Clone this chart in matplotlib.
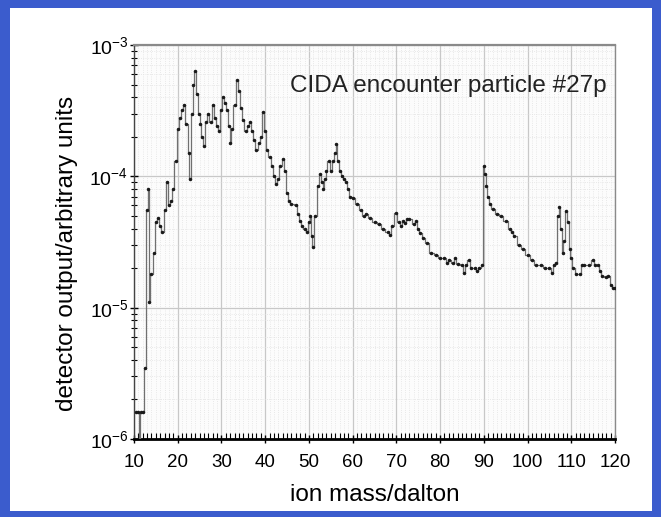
import matplotlib
matplotlib.use("Agg")
import matplotlib.pyplot as plt
from matplotlib.patches import Rectangle
from matplotlib.ticker import MultipleLocator, LogLocator, NullFormatter, FixedLocator

# ion mass (dalton)
mass = [10.5, 11.0, 11.3, 11.6, 12.0, 12.5, 13.0, 13.2, 13.5, 14.0, 14.5, 15.0, 15.5, 16.0, 16.5,
        17.0, 17.5, 18.0, 18.5, 19.0, 19.5, 20.0, 20.5, 21.0, 21.5, 22.0, 22.5, 22.8, 23.2, 23.6,
        24.0, 24.4, 24.8, 25.2, 25.6, 26.0, 26.5, 27.0, 27.5, 28.0, 28.5, 29.0, 29.5, 30.0, 30.4,
        30.8, 31.3, 31.7, 32.0, 32.5, 33.0, 33.5, 34.0, 34.5, 35.0, 35.5, 36.0, 36.5, 37.0, 37.5,
        38.0, 38.5, 39.0, 39.5, 40.0, 40.5, 41.0, 41.5, 42.0, 42.5, 43.0, 43.5, 44.0, 44.5, 45.0,
        45.5, 46.0, 47.0, 47.5, 48.0, 48.5, 49.0, 49.5, 50.0, 50.3, 50.6, 51.0, 51.5, 52.0, 52.5,
        53.0, 53.3, 53.7, 54.0, 54.5, 55.0, 55.5, 56.0, 56.3, 56.7, 57.0, 57.5, 58.0, 58.5, 59.0,
        59.5, 60.0, 61.0, 62.0, 62.5, 63.0, 64.0, 65.0, 66.0, 67.0, 68.0, 68.5, 69.0, 70.0, 70.5,
        71.0, 71.5, 72.0, 72.5, 73.0, 74.0, 74.5, 75.0, 75.5, 76.0, 77.0, 78.0, 79.0, 80.0, 81.0,
        81.5, 82.0, 83.0, 83.5, 84.0, 85.0, 85.5, 86.0, 86.5, 87.0, 88.0, 88.5, 89.0, 89.5, 90.0,
        90.3, 90.6, 91.0, 91.5, 92.0, 93.0, 94.0, 95.0, 96.0, 96.5, 97.0, 98.0, 99.0, 100.0, 101.0,
        102.0, 103.0, 104.0, 105.0, 105.5, 106.0, 106.5, 107.0, 107.3, 107.6, 108.0, 108.4, 108.8,
        109.2, 109.6, 110.0, 110.5, 111.0, 112.0, 112.5, 113.0, 114.0, 115.0, 115.5, 116.0, 116.5,
        117.0, 118.0, 118.5, 119.0, 119.5, 120.0]

# detector output, in units of 1e-5
signal_e5 = [0.16, 0.16, 0.09, 0.16, 0.16, 0.35, 5.5, 8.0, 1.1, 1.8, 2.6, 4.5, 4.8, 4.2, 3.8,
             5.5, 9.0, 6.0, 6.5, 8.0, 13, 23, 28, 32, 35, 25, 15, 9.5, 30, 50,
             63, 42, 30, 25, 20, 17, 26, 30, 26, 35, 28, 24, 22, 32, 40,
             36, 32, 24, 18, 23, 35, 54, 45, 33, 27, 22, 24, 26, 22, 19,
             16, 18, 20, 31, 22, 16, 14, 12, 10, 8.8, 9.5, 12, 13.5, 11, 7.5,
             6.5, 6.2, 6.0, 5.2, 4.6, 4.2, 4.0, 3.8, 4.5, 5.0, 3.5, 2.9, 5.0, 8.5, 10.5,
             9.0, 8.0, 9.5, 11.0, 13, 11, 13, 15, 17.7, 13, 11, 10, 9.5, 9.0, 8.0,
             7.0, 6.8, 6.2, 5.5, 5.0, 5.2, 4.8, 4.5, 4.3, 4.0, 3.8, 3.6, 4.2, 5.3, 4.5,
             4.2, 4.6, 4.4, 4.7, 4.7, 4.3, 4.6, 4.0, 3.7, 3.4, 3.1, 2.6, 2.5, 2.4, 2.4,
             2.2, 2.3, 2.2, 2.4, 2.15, 2.1, 1.85, 2.1, 2.3, 2.0, 2.0, 1.9, 2.0, 2.1, 12,
             10.5, 8.5, 7.0, 6.2, 5.6, 5.2, 5.0, 4.6, 4.0, 3.8, 3.5, 3.0, 2.8, 2.5, 2.3,
             2.1, 2.1, 2.0, 2.0, 1.85, 2.1, 2.2, 5.0, 5.8, 4.0, 2.6, 3.2, 5.4,
             4.5, 2.8, 2.4, 2.0, 1.8, 1.8, 2.1, 2.1, 2.1, 2.3, 2.1, 2.1, 1.9,
             1.75, 1.7, 1.75, 1.5, 1.4, 1.4]

signal = [v * 1e-5 for v in signal_e5]

x_ticks = [10, 20, 30, 40, 50, 60, 70, 80, 90, 100, 110, 120]
annotation = "CIDA encounter particle #27p"
xlabel = "ion mass/dalton"
ylabel = "detector output/arbitrary units"

plt.rcParams['font.family'] = ['Liberation Sans', 'DejaVu Sans']
plt.rcParams['mathtext.fontset'] = 'custom'
plt.rcParams['mathtext.rm'] = 'Liberation Sans'

W, H = 661, 517
fig = plt.figure(figsize=(W / 100, H / 100), dpi=100)
fig.patch.set_facecolor('#3b5ccd')
fig.patches.append(Rectangle((10 / W, 6 / H), (652 - 10) / W, (509 - 6) / H,
                             transform=fig.transFigure, facecolor='white',
                             edgecolor='none', zorder=-10))

ax = fig.add_axes([134 / W, 78 / H, 481 / W, 394 / H])
ax.set_facecolor('#fcfcfc')
ax.set_yscale('log')
ax.set_xlim(10, 120)
ax.set_ylim(1e-6, 1e-3)

ax.plot(mass, signal, drawstyle='steps-mid', color='#707070', lw=0.9, zorder=3)
ax.plot(mass, signal, linestyle='none', marker='.', ms=3, color='#1a1a1a', zorder=4)

ax.xaxis.set_major_locator(FixedLocator(x_ticks))
ax.xaxis.set_minor_locator(MultipleLocator(1))
ax.yaxis.set_major_locator(LogLocator(base=10, numticks=10))
ax.yaxis.set_minor_locator(LogLocator(base=10, subs=range(2, 10), numticks=20))
ax.yaxis.set_minor_formatter(NullFormatter())

ax.grid(True, which='major', color='#c8c8c8', lw=0.9)
ax.grid(True, which='minor', color='#e2e2e2', lw=0.6, linestyle=':')
ax.set_axisbelow(True)

for s in ['top', 'right']:
    ax.spines[s].set_color('#8a8a8a')
ax.spines['top'].set_linewidth(1.6)
ax.spines['right'].set_linewidth(1.0)
ax.spines['left'].set_color('#444444')
ax.spines['left'].set_linewidth(1.0)
ax.spines['bottom'].set_color('black')
ax.spines['bottom'].set_linewidth(2.0)

ax.tick_params(axis='x', which='major', direction='inout', length=6, width=1, labelsize=13.5, pad=8)
ax.tick_params(axis='x', which='minor', direction='in', length=4, width=0.8)
ax.tick_params(axis='y', which='major', direction='inout', length=6, width=1, labelsize=14, pad=1)
ax.tick_params(axis='y', which='minor', direction='inout', length=4, width=0.8)
ax.tick_params(top=False, right=False, which='both')

ax.set_xlabel(xlabel, fontsize=17.5, labelpad=9)
ax.set_ylabel(ylabel, fontsize=17.5, labelpad=6)
ax.yaxis.set_label_coords(-0.117, 0.47)

ax.text(0.983, 0.895, annotation, transform=ax.transAxes, ha='right', va='center',
        fontsize=17.5, color='#222222', zorder=5)

fig.savefig('out.png', dpi=100, facecolor=fig.get_facecolor())
